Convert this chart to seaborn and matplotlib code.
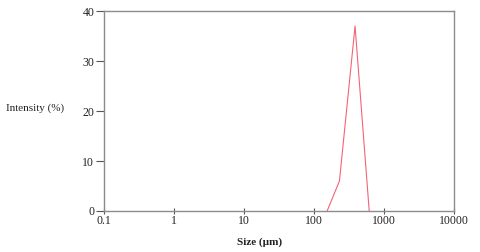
import matplotlib
matplotlib.use('Agg')
import matplotlib.pyplot as plt
import seaborn as sns
import pandas as pd

# values
sizes = [154, 231, 386, 615]
intensity = [0, 6, 37, 0]
x_ticks = [0.1, 1, 10, 100, 1000, 10000]
x_tick_labels = ['0.1', '1', '10', '100', '1000', '10000']
y_ticks = [0, 10, 20, 30, 40]

sns.set_style('white')
plt.rcParams['font.family'] = ['Liberation Serif', 'DejaVu Serif']

df = pd.DataFrame({'Size': sizes, 'Intensity': intensity})

fig = plt.figure(figsize=(4.8, 2.52), dpi=100)
ax = fig.add_axes([0.2167, 0.1627, 0.7291, 0.7936])

sns.lineplot(data=df, x='Size', y='Intensity', ax=ax, color='#f26474', linewidth=0.8)

ax.set_xscale('log')
ax.set_xlim(0.1, 10000)
ax.set_ylim(0, 40)
ax.set_xticks(x_ticks)
ax.set_xticklabels(x_tick_labels)
ax.minorticks_off()
ax.set_yticks(y_ticks)
ax.set_yticklabels([str(v) for v in y_ticks])

for side in ['left', 'bottom', 'top', 'right']:
    ax.spines[side].set_color('#8c8c8c')
    ax.spines[side].set_linewidth(1.0)

ax.tick_params(axis='y', left=True, direction='out', length=6, width=0.8, color='#555555',
               labelsize=8.5, pad=1, labelcolor='#222222')
ax.tick_params(axis='x', bottom=True, direction='inout', length=4, width=0.8, color='#555555',
               labelsize=8.5, pad=1, labelcolor='#222222')

ax.set_xlabel('')
ax.set_ylabel('')
fig.text(0.012, 1 - 108 / 252, 'Intensity (%)', fontsize=8, ha='left', va='center', color='#222222')
fig.text(260 / 480, 1 - 242 / 252, 'Size (µm)', fontsize=8, ha='center', va='center',
         color='#222222', fontweight='bold')

fig.savefig('out.png', dpi=100)
